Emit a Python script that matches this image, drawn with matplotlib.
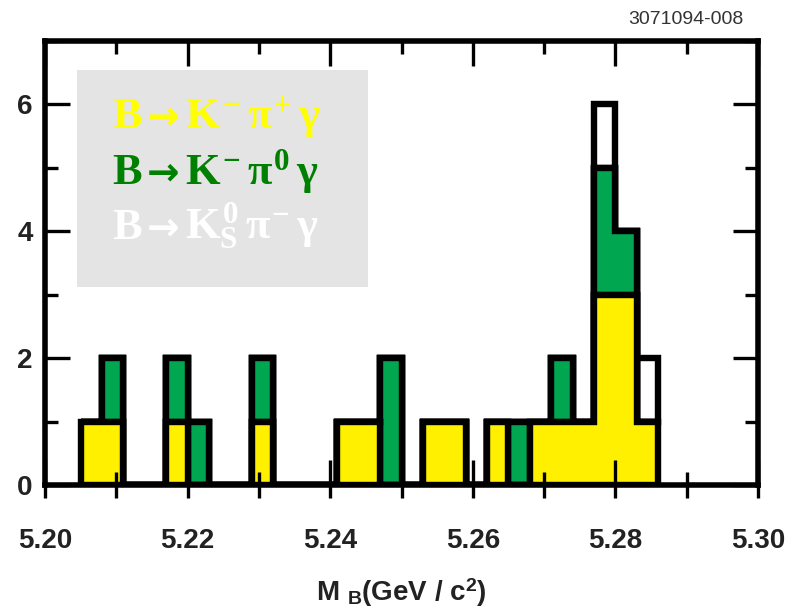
import numpy as np
import matplotlib.pyplot as plt
from matplotlib.ticker import MultipleLocator, FormatStrFormatter
from matplotlib.patches import Rectangle
from matplotlib.offsetbox import TextArea, HPacker, AnchoredOffsetbox

# bold serif for the decay labels (mathtext), bold sans for axis label pieces
plt.rcParams['mathtext.fontset'] = 'custom'
plt.rcParams['mathtext.rm'] = 'Liberation Serif:bold'
plt.rcParams['mathtext.it'] = 'Liberation Serif:bold'
plt.rcParams['mathtext.bf'] = 'Liberation Serif:bold'
plt.rcParams['mathtext.sf'] = 'Liberation Sans:bold'

# 3 MeV bins, first edge at 5.205 GeV
bin_start = 5.205
bin_width = 0.003
n_bins = 27
edges = bin_start + bin_width * np.arange(n_bins + 1)
centers = 0.5 * (edges[:-1] + edges[1:])

# events per bin
k_pip = [1, 1, 0, 0, 1, 0, 0, 0, 1, 0, 0, 0, 1, 1, 0, 0, 1, 1, 0, 1, 0, 1, 1, 1, 3, 3, 1]
k_pi0 = [0, 1, 0, 0, 1, 1, 0, 0, 1, 0, 0, 0, 0, 0, 2, 0, 0, 0, 0, 0, 1, 0, 1, 0, 2, 1, 0]
ks_pim = [0, 0, 0, 0, 0, 0, 0, 0, 0, 0, 0, 0, 0, 0, 0, 0, 0, 0, 0, 0, 0, 0, 0, 0, 1, 0, 1]

fill_colors = ['#fff000', '#00a650', 'white']
final_states = [r'$K^{-}\,\pi^{+}\,\gamma$',
                r'$K^{-}\,\pi^{0}\,\gamma$',
                r'$K^{0}_{S}\,\pi^{-}\,\gamma$']
text_colors = ['#ffff00', '#008000', 'white']

W, H = 785, 615
fig = plt.figure(figsize=(W / 100, H / 100), dpi=100)
ax = fig.add_axes([45 / W, 1 - 485 / H, 713 / W, 444 / H])

ax.hist([centers] * 3, bins=edges, weights=[k_pip, k_pi0, ks_pim],
        stacked=True, histtype='stepfilled', color=fill_colors,
        edgecolor='black', linewidth=4.6, joinstyle='miter')

ax.set_xlim(5.20, 5.30)
ax.set_ylim(0, 7)

for s in ax.spines.values():
    s.set_linewidth(4)
    s.set_zorder(5)

tick_font = {'family': 'Liberation Sans', 'weight': 'bold', 'size': 20}

ax.xaxis.set_major_locator(MultipleLocator(0.02))
ax.xaxis.set_minor_locator(MultipleLocator(0.01))
ax.xaxis.set_major_formatter(FormatStrFormatter('%.2f'))
ax.yaxis.set_major_locator(MultipleLocator(2))
ax.yaxis.set_minor_locator(MultipleLocator(1))
ax.tick_params(which='both', direction='in', top=True, right=True, width=2.4, colors='black')
ax.tick_params(which='major', length=18)
ax.tick_params(which='minor', length=9.5)
ax.tick_params(axis='x', which='major', pad=31)
ax.tick_params(axis='y', which='major', pad=9)
for lab in ax.get_xticklabels() + ax.get_yticklabels():
    lab.set_fontproperties(tick_font)
    lab.set_color('#222222')

# outward ticks under the bottom axis
sec = ax.secondary_xaxis('bottom')
sec.xaxis.set_major_locator(MultipleLocator(0.01))
sec.tick_params(direction='out', length=9, width=2.4, labelbottom=False)
sec.spines['bottom'].set_visible(False)

ax.set_xlabel(r'M $_{\mathsf{B}}$(GeV / c$^{\mathsf{2}}$)', fontdict=tick_font,
              color='#222222', labelpad=16)

# legend panel
ax.add_patch(Rectangle(((77 - 45) / 713, (485 - 287) / 444),
                       (368 - 77) / 713, (287 - 70) / 444, transform=ax.transAxes,
                       facecolor='#e4e4e4', edgecolor='none', zorder=3))
ys = [(485 - 140) / 444, (485 - 196) / 444, (485 - 252) / 444]
for fs, c, y in zip(final_states, text_colors, ys):
    parts = [TextArea('B', textprops=dict(family='Liberation Serif', weight='bold',
                                          size=32, color=c)),
             TextArea('\u2192', textprops=dict(family='DejaVu Sans', weight='bold',
                                               size=28, color=c)),
             TextArea(fs, textprops=dict(size=32, color=c))]
    row = HPacker(children=parts, align='baseline', pad=0, sep=4)
    box = AnchoredOffsetbox(loc='lower left', child=row, pad=0, borderpad=0,
                            frameon=False, bbox_to_anchor=((112 - 45) / 713, y),
                            bbox_transform=ax.transAxes)
    box.set_zorder(4)
    ax.add_artist(box)

fig.text(743 / W, 1 - 20 / H, '3071094-008', ha='right', va='center',
         fontsize=14, family='Liberation Sans', color='#333333')

fig.savefig('out.png', dpi=100)
